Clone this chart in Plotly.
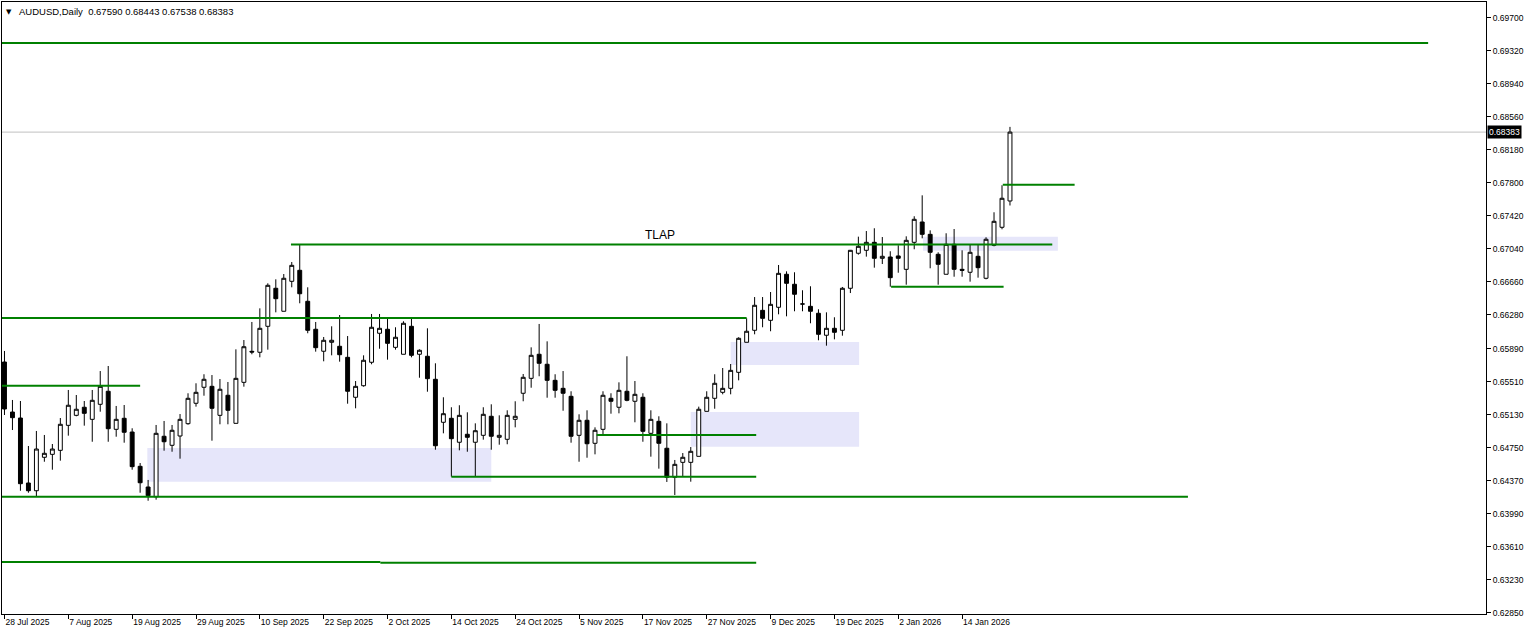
import pandas as pd
import plotly.graph_objects as go

# ---------------- data ----------------
holidays = ["2025-12-25", "2026-01-01"]
all_days = pd.bdate_range("2025-07-28", "2026-01-22")
dates = [d for d in all_days if d.strftime("%Y-%m-%d") not in holidays]

opens = [0.65736, 0.65160, 0.65091, 0.64343, 0.64254, 0.64639, 0.64673, 0.64719, 0.65007, 0.65122,
         0.65215, 0.65076, 0.65249, 0.65399, 0.64961, 0.65088, 0.64930, 0.64535, 0.64297, 0.64185,
         0.64881, 0.64777, 0.64884, 0.65026, 0.65261, 0.65445, 0.65456, 0.65122, 0.65353, 0.65030,
         0.65502, 0.65859, 0.65848, 0.66147, 0.66585, 0.66320, 0.66665, 0.66792, 0.66435, 0.66113,
         0.65860, 0.65963, 0.65917, 0.65790, 0.65330, 0.65463, 0.65733, 0.66067, 0.66113, 0.65905,
         0.65825, 0.66147, 0.65825, 0.65802, 0.65537, 0.65042, 0.65088, 0.64812, 0.64904, 0.64812,
         0.64892, 0.65111, 0.64869, 0.64846, 0.65076, 0.65376, 0.65548, 0.65825, 0.65710, 0.65525,
         0.65433, 0.65341, 0.64892, 0.65065, 0.64800, 0.64961, 0.65318, 0.65215, 0.65399, 0.65284,
         0.65330, 0.64915, 0.65053, 0.64743, 0.64409, 0.64581, 0.64581, 0.64650, 0.65168, 0.65318,
         0.65387, 0.65433, 0.65617, 0.65963, 0.66101, 0.66331, 0.66216, 0.66366, 0.66746, 0.66631,
         0.66404, 0.66377, 0.66297, 0.66044, 0.66124, 0.66101, 0.66585, 0.66988, 0.67022, 0.67114,
         0.66930, 0.66945, 0.66957, 0.66803, 0.67114, 0.67348, 0.67206, 0.66976, 0.66746, 0.67091,
         0.66803, 0.66769, 0.66953, 0.66700, 0.67080, 0.67287, 0.67590]

highs = [0.65863, 0.65299, 0.65287, 0.64769, 0.64942, 0.64896, 0.64792, 0.65091, 0.65414, 0.65356,
         0.65287, 0.65414, 0.65632, 0.65690, 0.65230, 0.65241, 0.64973, 0.64573, 0.64378, 0.65011,
         0.65057, 0.65011, 0.65137, 0.65376, 0.65491, 0.65595, 0.65586, 0.65540, 0.65506, 0.65882,
         0.65989, 0.66197, 0.66354, 0.66642, 0.66688, 0.66749, 0.66887, 0.67090, 0.66596, 0.66197,
         0.66024, 0.66147, 0.66277, 0.66035, 0.65517, 0.65813, 0.66289, 0.66289, 0.66239, 0.66136,
         0.66205, 0.66239, 0.65882, 0.66124, 0.65721, 0.65330, 0.65215, 0.65238, 0.65157, 0.65030,
         0.65215, 0.65249, 0.65122, 0.65180, 0.65284, 0.65598, 0.65905, 0.66174, 0.65974, 0.65595,
         0.65632, 0.65399, 0.65134, 0.65180, 0.64984, 0.65399, 0.65376, 0.65502, 0.65802, 0.65517,
         0.65376, 0.65180, 0.65111, 0.65030, 0.64608, 0.64688, 0.64757, 0.65222, 0.65399, 0.65595,
         0.65667, 0.65713, 0.66021, 0.66239, 0.66484, 0.66484, 0.66542, 0.66853, 0.66780, 0.66769,
         0.66562, 0.66608, 0.66343, 0.66308, 0.66251, 0.66600, 0.67026, 0.67179, 0.67244, 0.67276,
         0.67175, 0.67011, 0.67080, 0.67183, 0.67414, 0.67655, 0.67252, 0.66999, 0.67218, 0.67267,
         0.67022, 0.67091, 0.67091, 0.67172, 0.67460, 0.67771, 0.68443]

lows = [0.65126, 0.64953, 0.64254, 0.64231, 0.64185, 0.64588, 0.64496, 0.64600, 0.64888, 0.65111,
        0.65003, 0.64818, 0.65164, 0.64818, 0.64876, 0.64807, 0.64496, 0.64231, 0.64139, 0.64151,
        0.64715, 0.64703, 0.64623, 0.65014, 0.65222, 0.65348, 0.64830, 0.65019, 0.65019, 0.65030,
        0.65452, 0.65825, 0.65790, 0.65878, 0.66308, 0.66320, 0.66596, 0.66412, 0.66067, 0.65855,
        0.65744, 0.65813, 0.65740, 0.65256, 0.65203, 0.65452, 0.65710, 0.65889, 0.65763, 0.65878,
        0.65825, 0.65790, 0.65555, 0.65394, 0.64726, 0.64915, 0.64416, 0.64719, 0.64703, 0.64416,
        0.64842, 0.64726, 0.64784, 0.64789, 0.64984, 0.65284, 0.65440, 0.65572, 0.65325, 0.65325,
        0.65175, 0.64807, 0.64588, 0.64634, 0.64673, 0.64888, 0.65141, 0.65145, 0.65284, 0.65042,
        0.64818, 0.64646, 0.64508, 0.64355, 0.64205, 0.64416, 0.64358, 0.64650, 0.65168, 0.65198,
        0.65364, 0.65364, 0.65525, 0.65963, 0.66055, 0.66136, 0.66090, 0.66285, 0.66262, 0.66320,
        0.66320, 0.66182, 0.65986, 0.65924, 0.65997, 0.66039, 0.66530, 0.66972, 0.66949, 0.66822,
        0.66864, 0.66603, 0.66764, 0.66626, 0.67034, 0.67160, 0.66815, 0.66626, 0.66746, 0.66718,
        0.66718, 0.66661, 0.66707, 0.66688, 0.67068, 0.67264, 0.67538]

closes = [0.65195, 0.65095, 0.64335, 0.64254, 0.64734, 0.64685, 0.64734, 0.65019, 0.65238, 0.65192,
          0.65145, 0.65295, 0.65456, 0.64968, 0.65076, 0.64927, 0.64531, 0.64346, 0.64197, 0.64915,
          0.64818, 0.64950, 0.65076, 0.65318, 0.65387, 0.65537, 0.65203, 0.65422, 0.65180, 0.65548,
          0.65912, 0.65851, 0.66124, 0.66619, 0.66465, 0.66700, 0.66849, 0.66522, 0.66101, 0.65901,
          0.65986, 0.65986, 0.65820, 0.65399, 0.65456, 0.65756, 0.66136, 0.66124, 0.65951, 0.66021,
          0.66182, 0.65813, 0.65871, 0.65544, 0.64772, 0.65141, 0.64853, 0.65122, 0.64869, 0.64945,
          0.65134, 0.64881, 0.64892, 0.65122, 0.65111, 0.65560, 0.65813, 0.65721, 0.65525, 0.65410,
          0.65376, 0.64881, 0.65065, 0.64795, 0.64950, 0.65353, 0.65284, 0.65410, 0.65295, 0.65364,
          0.64938, 0.65076, 0.64800, 0.64409, 0.64558, 0.64639, 0.64708, 0.65192, 0.65330, 0.65491,
          0.65433, 0.65640, 0.66009, 0.66090, 0.66389, 0.66239, 0.66400, 0.66757, 0.66642, 0.66516,
          0.66404, 0.66320, 0.66055, 0.66124, 0.66078, 0.66585, 0.67022, 0.67068, 0.67114, 0.66930,
          0.66953, 0.66707, 0.66930, 0.67137, 0.67379, 0.67206, 0.66999, 0.66861, 0.67091, 0.66803,
          0.66792, 0.66999, 0.66822, 0.67149, 0.67356, 0.67621, 0.68383]

date_labels = ["28 Jul 2025", "7 Aug 2025", "19 Aug 2025", "29 Aug 2025", "10 Sep 2025",
               "22 Sep 2025", "2 Oct 2025", "14 Oct 2025", "24 Oct 2025", "5 Nov 2025",
               "17 Nov 2025", "27 Nov 2025", "9 Dec 2025", "19 Dec 2025", "2 Jan 2026",
               "14 Jan 2026"]

price_labels = ["0.62850", "0.63230", "0.63610", "0.63990", "0.64370", "0.64750", "0.65130",
                "0.65510", "0.65890", "0.66280", "0.66660", "0.67040", "0.67420", "0.67800",
                "0.68180", "0.68560", "0.68940", "0.69320", "0.69700"]

# horizontal levels (bar-index start/end, price); None = chart left edge
level_price = [0.69409, 0.67777, 0.67090, 0.66603, 0.66243, 0.65463, 0.64896, 0.64416,
               0.64185, 0.63434, 0.63426]
level_from = [None, 125.1, 35.9, 111.1, None, None, 74.2, 56.0, None, None, 47.1]
level_to = [178.4, 134.1, 131.3, 125.2, 93.0, 17.0, 94.2, 94.2, 148.3, 47.1, 94.2]

# zones (bar-index span, price span)
zone_from = [115.1, 91.0, 86.0, 17.9]
zone_to = [132.0, 107.1, 107.1, 61.0]
zone_top = [0.67179, 0.65967, 0.65160, 0.64746]
zone_bottom = [0.67017, 0.65702, 0.64761, 0.64358]

symbol = "AUDUSD,Daily"
last_price = closes[-1]

# ---------------- figure ----------------
idx = list(range(len(dates)))
label_idx = []
for lab in date_labels:
    d = pd.to_datetime(lab, format="%d %b %Y")
    label_idx.append([k for k, dd in enumerate(dates) if dd == d][0])

X_RANGE = [-0.31, 185.65]
Y_RANGE = [0.628348, 0.698808]
FONT = "Liberation Sans"

fig = go.Figure()
fig.add_trace(go.Candlestick(
    x=idx, open=opens, high=highs, low=lows, close=closes,
    text=[d.strftime("%d %b %Y") for d in dates],
    increasing=dict(fillcolor="white", line=dict(color="black", width=1)),
    decreasing=dict(fillcolor="black", line=dict(color="black", width=1)),
    whiskerwidth=0, showlegend=False,
))

shapes = []
for z0, z1, zt, zb in zip(zone_from, zone_to, zone_top, zone_bottom):
    shapes.append(dict(type="rect", xref="x", yref="y", x0=z0, x1=z1, y0=zb, y1=zt,
                       fillcolor="#E6E6FA", line=dict(width=0), layer="below"))
shapes.append(dict(type="line", xref="paper", yref="y", x0=0, x1=1, y0=last_price, y1=last_price,
                   line=dict(color="#C0C0C0", width=1), layer="below"))
for p, a, b in zip(level_price, level_from, level_to):
    shapes.append(dict(type="line", xref="x", yref="y",
                       x0=X_RANGE[0] if a is None else a, x1=b, y0=p, y1=p,
                       line=dict(color="#008000", width=2), layer="above"))

annotations = [
    dict(xref="paper", yref="paper", x=0, y=1, xanchor="left", yanchor="top",
         xshift=2, yshift=-4, text="▼", showarrow=False,
         font=dict(family="DejaVu Sans", size=7, color="black")),
    dict(xref="paper", yref="paper", x=0, y=1, xanchor="left", yanchor="top",
         xshift=15, yshift=-2, showarrow=False,
         text=symbol + "\u00a0\u00a0" + " ".join("%.5f" % v for v in
                                              [opens[-1], highs[-1], lows[-1], closes[-1]]),
         font=dict(family=FONT, size=9.5, color="black")),
    dict(xref="x", yref="y", x=82.1, y=0.67204, text="TLAP", showarrow=False,
         xanchor="center", yanchor="middle",
         font=dict(family=FONT, size=12, color="black")),
    dict(xref="paper", yref="y", x=1, y=last_price, xanchor="left", yanchor="middle",
         xshift=1, text="%.5f" % last_price, showarrow=False, bgcolor="black",
         borderpad=1, font=dict(family=FONT, size=8.5, color="white")),
]

fig.update_layout(
    template="none",
    width=1533, height=636,
    margin=dict(l=2, r=47, t=2, b=22, pad=0),
    paper_bgcolor="white", plot_bgcolor="white",
    showlegend=False,
    shapes=shapes, annotations=annotations,
    font=dict(family=FONT, size=8.5, color="black"),
    xaxis=dict(range=X_RANGE, rangeslider=dict(visible=False), showgrid=False, zeroline=False,
               showline=True, mirror=True, linecolor="black", linewidth=1,
               tickmode="array", tickvals=label_idx, ticktext=date_labels,
               ticks="outside", ticklen=4, tickcolor="black", tickwidth=1,
               ticklabelposition="outside right", automargin=False,
               tickfont=dict(family=FONT, size=8.5, color="black")),
    yaxis=dict(range=Y_RANGE, side="right", showgrid=False, zeroline=False,
               showline=True, mirror=True, linecolor="black", linewidth=1,
               tickmode="array", tickvals=[float(v) for v in price_labels], ticktext=price_labels,
               ticks="outside", ticklen=4, tickcolor="black", tickwidth=1, automargin=False,
               tickfont=dict(family=FONT, size=8.5, color="black")),
)

fig.write_html("out.html", config={"displayModeBar": False},
               post_script="document.body.style.margin='0px';")
